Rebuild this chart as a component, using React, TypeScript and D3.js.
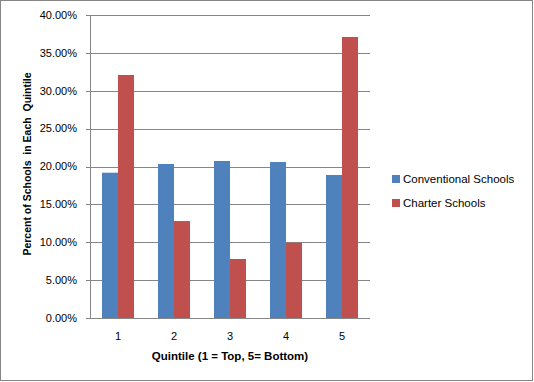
import React from "react";
import * as d3 from "d3";

const categories = ["1", "2", "3", "4", "5"];
const seriesNames = ["Conventional Schools", "Charter Schools"];
const conventional = [0.1918, 0.2033, 0.2073, 0.2059, 0.1888];
const charter = [0.3208, 0.128, 0.0779, 0.0994, 0.371];
const yTicks = [0, 0.05, 0.1, 0.15, 0.2, 0.25, 0.3, 0.35, 0.4];
const colors = ["#4F81BD", "#C0504D"];

const W = 534;
const H = 382;
const left = 90;
const right = 370;
const top = 15;
const bottom = 318;
const font = "'Liberation Sans', Arial, sans-serif";

export default function App() {
  const x = d3.scaleBand<string>().domain(categories).range([left, right]).paddingInner(24 / 56).paddingOuter(12 / 56);
  const y = d3.scaleLinear().domain([0, 0.4]).range([bottom, top]);
  const inner = d3.scaleBand<number>().domain([0, 1]).range([0, x.bandwidth()]);
  const series = [conventional, charter];
  const fmt = d3.format(".2%");
  return (
    <svg width={W} height={H} style={{ position: "absolute", left: 0, top: 0 }}>
      <rect x={0.5} y={0.5} width={W - 2} height={H - 2} fill="#fff" stroke="#868686" />
      {yTicks.map((t) => (
        <g key={t}>
          <line x1={left - 4} x2={right} y1={Math.round(y(t)) + 0.5} y2={Math.round(y(t)) + 0.5} stroke="#868686" />
          <text x={77} y={y(t)} dy="0.35em" textAnchor="end" fontFamily={font} fontSize={11} fill="#000">
            {fmt(t)}
          </text>
        </g>
      ))}
      <line x1={left + 0.5} x2={left + 0.5} y1={top} y2={bottom} stroke="#868686" />
      {series.map((vals, si) =>
        vals.map((v, i) => (
          <rect
            key={si + "-" + i}
            x={(x(categories[i]) as number) + (inner(si) as number)}
            y={y(v)}
            width={inner.bandwidth()}
            height={bottom - y(v)}
            fill={colors[si]}
          />
        ))
      )}
      {categories.map((c) => (
        <text key={c} x={(x(c) as number) + x.bandwidth() / 2} y={336} dy="0.35em" textAnchor="middle" fontFamily={font} fontSize={11}>
          {c}
        </text>
      ))}
      <text x={230} y={356} dy="0.35em" textAnchor="middle" fontFamily={font} fontSize={11.5} fontWeight="bold">
        Quintile (1 = Top, 5= Bottom)
      </text>
      <text
        transform={`translate(27,164) rotate(-90)`}
        dy="0.35em"
        textAnchor="middle"
        fontFamily={font}
        fontSize={10.5}
        fontWeight="bold"
        style={{ whiteSpace: "pre" }}
      >
        {"Percent of Schools  in Each  Quintile"}
      </text>
      {seriesNames.map((n, i) => (
        <g key={n}>
          <rect x={392} y={175 + i * 24} width={8} height={8} fill={colors[i]} />
          <text x={403} y={179 + i * 24} dy="0.35em" fontFamily={font} fontSize={11.5}>
            {n}
          </text>
        </g>
      ))}
    </svg>
  );
}
